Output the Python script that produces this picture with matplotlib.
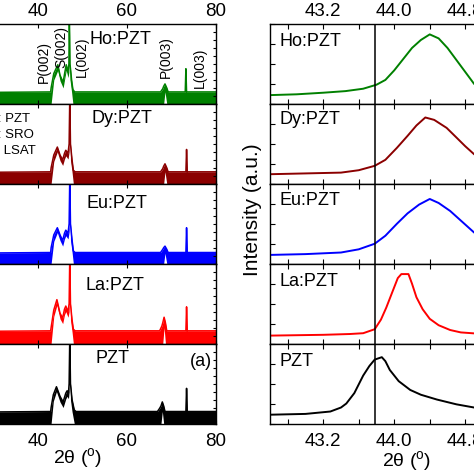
import matplotlib
matplotlib.use("Agg")
import matplotlib.pyplot as plt
from matplotlib.ticker import MultipleLocator

plt.rcParams['font.family'] = ['Liberation Sans', 'DejaVu Sans']
plt.rcParams['mathtext.fontset'] = 'custom'
plt.rcParams['mathtext.rm'] = 'Liberation Sans'

# ---------------- data ----------------
samples = ["Ho:PZT", "Dy:PZT", "Eu:PZT", "La:PZT", "PZT"]
colors = ["#008000", "#8b0000", "#0000ff", "#ff0000", "#000000"]

# left panel: wide 2theta scan (x, upper envelope, lower envelope), panel-normalised
ho_wide = [(20, 0.14, 0), (42.9, 0.15, 0), (43.0, 0.2, 0), (43.6, 0.38, 0.3), (44.5, 0.49, 0.42),
           (45.0, 0.36, 0.29), (45.7, 0.27, 0.2), (46.1, 0.4, 0.33), (46.4, 0.49, 0.42), (46.8, 0.4, 0.33),
           (47.0, 0.5, 0.4), (47.1, 1.1, 1.0), (47.25, 0.5, 0.3), (47.6, 0.3, 0.15), (47.9, 0.18, 0),
           (48.3, 0.15, 0), (67.6, 0.15, 0), (68.1, 0.19, 0), (68.3, 0.22, 0.0), (68.6, 0.25, 0.15),
           (69.0, 0.2, 0.0), (69.3, 0.15, 0), (73.15, 0.15, 0), (73.3, 0.44, 0.0), (73.45, 0.15, 0),
           (80, 0.15, 0)]
dy_wide = [(20, 0.14, 0), (42.9, 0.15, 0), (43.0, 0.2, 0), (43.6, 0.36, 0.28), (44.4, 0.46, 0.4),
           (45.0, 0.36, 0.29), (45.6, 0.3, 0.23), (46.0, 0.38, 0.31), (46.3, 0.42, 0.35), (46.8, 0.38, 0.31),
           (47.05, 0.5, 0.4), (47.2, 1.1, 1.0), (47.35, 0.5, 0.3), (47.7, 0.3, 0.15), (48.0, 0.17, 0),
           (48.4, 0.15, 0), (67.6, 0.15, 0), (68.1, 0.19, 0), (68.3, 0.22, 0.0), (68.6, 0.25, 0.15),
           (69.0, 0.2, 0.0), (69.3, 0.15, 0), (73.3, 0.15, 0), (73.45, 0.43, 0.0), (73.6, 0.15, 0),
           (80, 0.15, 0)]
eu_wide = [(20, 0.13, 0), (42.9, 0.14, 0), (43.0, 0.2, 0), (43.6, 0.36, 0.28), (44.4, 0.45, 0.39),
           (45.0, 0.36, 0.29), (45.6, 0.29, 0.22), (46.0, 0.38, 0.31), (46.3, 0.42, 0.35), (46.8, 0.38, 0.31),
           (47.05, 0.5, 0.4), (47.2, 1.1, 1.0), (47.35, 0.5, 0.3), (47.7, 0.3, 0.15), (48.0, 0.16, 0),
           (48.4, 0.14, 0), (67.6, 0.14, 0), (68.1, 0.18, 0), (68.3, 0.2, 0.0), (68.6, 0.22, 0.13),
           (69.0, 0.18, 0.0), (69.3, 0.14, 0), (73.3, 0.14, 0), (73.45, 0.45, 0.0), (73.6, 0.14, 0),
           (80, 0.14, 0)]
la_wide = [(20, 0.15, 0), (42.9, 0.16, 0), (43.0, 0.2, 0), (43.6, 0.42, 0.34), (44.3, 0.55, 0.48),
           (45.0, 0.38, 0.31), (45.6, 0.32, 0.25), (46.0, 0.43, 0.36), (46.3, 0.47, 0.4), (46.8, 0.4, 0.33),
           (47.05, 0.5, 0.4), (47.2, 1.1, 1.0), (47.35, 0.5, 0.3), (47.7, 0.3, 0.15), (48.0, 0.18, 0),
           (48.4, 0.16, 0), (67.4, 0.16, 0), (67.9, 0.22, 0), (68.1, 0.26, 0.0), (68.4, 0.33, 0.2),
           (68.7, 0.26, 0.0), (69.0, 0.16, 0), (73.3, 0.16, 0), (73.45, 0.46, 0.0), (73.6, 0.16, 0),
           (80, 0.16, 0)]
pzt_wide = [(20, 0.14, 0), (42.9, 0.15, 0), (43.0, 0.2, 0), (43.5, 0.36, 0.28), (44.2, 0.46, 0.4),
            (45.0, 0.34, 0.27), (45.7, 0.27, 0.2), (46.3, 0.38, 0.31), (46.6, 0.41, 0.34), (46.9, 0.38, 0.31),
            (47.05, 0.5, 0.4), (47.2, 1.1, 1.0), (47.35, 0.5, 0.3), (47.7, 0.3, 0.15), (48.2, 0.17, 0),
            (48.6, 0.15, 0), (66.9, 0.15, 0), (67.4, 0.19, 0), (67.7, 0.22, 0.0), (68.0, 0.27, 0.15),
            (68.3, 0.22, 0.0), (68.6, 0.15, 0), (73.3, 0.15, 0), (73.45, 0.44, 0.0), (73.6, 0.15, 0),
            (80, 0.15, 0)]
wide_scans = [ho_wide, dy_wide, eu_wide, la_wide, pzt_wide]

# right panel: zoom on the (002) reflection
ho_x = [42.6, 42.9, 43.2, 43.45, 43.65, 43.8, 43.9, 44.0, 44.1, 44.2, 44.3, 44.4, 44.5, 44.6, 44.7, 44.8, 44.9, 45.0]
ho_y = [0.11, 0.12, 0.14, 0.16, 0.19, 0.24, 0.3, 0.42, 0.56, 0.7, 0.8, 0.87, 0.82, 0.7, 0.55, 0.4, 0.25, 0.18]
dy_x = [42.6, 43.0, 43.4, 43.6, 43.78, 43.9, 44.03, 44.15, 44.25, 44.35, 44.45, 44.59, 44.7, 44.8, 44.9, 45.0]
dy_y = [0.12, 0.13, 0.14, 0.17, 0.225, 0.3, 0.45, 0.6, 0.73, 0.83, 0.8, 0.7, 0.58, 0.47, 0.37, 0.3]
eu_x = [42.6, 43.0, 43.4, 43.6, 43.78, 43.9, 44.03, 44.15, 44.28, 44.4, 44.5, 44.63, 44.75, 44.9, 45.0]
eu_y = [0.11, 0.12, 0.14, 0.18, 0.25, 0.35, 0.5, 0.63, 0.74, 0.81, 0.76, 0.66, 0.54, 0.39, 0.33]
la_x = [42.6, 43.2, 43.5, 43.65, 43.78, 43.85, 43.91, 43.98, 44.04, 44.08, 44.16, 44.2, 44.25, 44.32, 44.4, 44.5, 44.63, 44.75, 45.0]
la_y = [0.1, 0.11, 0.12, 0.13, 0.18, 0.3, 0.45, 0.65, 0.82, 0.87, 0.87, 0.75, 0.58, 0.43, 0.31, 0.23, 0.17, 0.14, 0.12]
pzt_x = [42.6, 43.0, 43.28, 43.4, 43.46, 43.55, 43.65, 43.72, 43.78, 43.86, 43.9, 43.95, 44.05, 44.18, 44.3, 44.48, 44.7, 44.9, 45.0]
pzt_y = [0.11, 0.12, 0.15, 0.2, 0.25, 0.38, 0.6, 0.72, 0.8, 0.83, 0.78, 0.67, 0.53, 0.42, 0.36, 0.3, 0.24, 0.2, 0.19]
zoom_x = [ho_x, dy_x, eu_x, la_x, pzt_x]
zoom_y = [ho_y, dy_y, eu_y, la_y, pzt_y]
ref_line = 43.78

peak_labels = ["P(002)", "S(002)", "L(002)", "P(003)", "L(003)"]
peak_label_x = [41.4, 45.4, 50.0, 68.7, 76.4]
peak_label_y = [0.525, 0.71, 0.59, 0.58, 0.455]
phase_labels = ["P: PZT", "S: SRO", "L: LSAT"]

# ---------------- layout ----------------
W = 474.0
fig = plt.figure(figsize=(4.74, 4.74), dpi=100)
top_px, bot_px = 24.0, 423.5
ph = (bot_px - top_px) / 5 / W
lx0, lx1 = -51.2 / W, 215.7 / W
rx0, rx1 = 270.0 / W, 483.0 / W

left_label_pos = [(58.5, 0.81), (58.9, 0.82), (57.8, 0.755), (57.3, 0.73), (56.7, 0.81)]
right_label_y = [0.78, 0.81, 0.79, 0.78, 0.78]

for i in range(5):
    y0 = 1 - (top_px / W) - (i + 1) * ph
    xpad = 3 if i == 0 else 7
    # ---- left ----
    ax = fig.add_axes([lx0, y0, lx1 - lx0, ph])
    scan = wide_scans[i]
    xs = [p[0] for p in scan]
    up = [p[1] for p in scan]
    lo = [p[2] for p in scan]
    ax.fill_between(xs, lo, up, color=colors[i], lw=0)
    ax.plot(xs, up, color=colors[i], lw=1.1)
    ax.set_xlim(20, 80)
    ax.set_ylim(0, 1)
    ax.xaxis.set_major_locator(MultipleLocator(20))
    ax.yaxis.set_major_locator(MultipleLocator(0.1))
    ax.tick_params(direction='in', length=3, width=0.8, top=True, right=True,
                   labelleft=False, labelbottom=(i == 4), labeltop=(i == 0), labelsize=13.5)
    ax.tick_params(axis='x', pad=xpad)
    ax.tick_params(axis='y', length=2.5)
    for s in ax.spines.values():
        s.set_linewidth(1.0)
    lx, ly = left_label_pos[i]
    ax.text(lx, ly, samples[i], ha='center', va='center', fontsize=13)
    if i == 0:
        for t, px, py in zip(peak_labels, peak_label_x, peak_label_y):
            ax.text(px, py, t, rotation=90, ha='center', va='center', fontsize=10)
    if i == 1:
        for k, t in enumerate(phase_labels):
            ax.text(29.1, 0.81 - k * 0.2, t, ha='left', va='center', fontsize=9.5)
    if i == 4:
        ax.text(76.6, 0.78, "(a)", ha='center', va='center', fontsize=13)

    # ---- right ----
    ar = fig.add_axes([rx0, y0, rx1 - rx0, ph])
    ar.plot(zoom_x[i], zoom_y[i], color=colors[i], lw=1.4)
    ar.axvline(ref_line, color='black', lw=1.1)
    ar.set_xlim(42.6, 45.0)
    ar.set_ylim(0, 1)
    ar.xaxis.set_major_locator(MultipleLocator(0.8))
    ar.xaxis.set_minor_locator(MultipleLocator(0.4))
    ar.xaxis.set_major_formatter(matplotlib.ticker.FormatStrFormatter('%.1f'))
    ar.yaxis.set_major_locator(MultipleLocator(0.25))
    ar.tick_params(direction='in', which='both', length=3.5, width=0.8, top=True, right=True,
                   labelleft=False, labelbottom=(i == 4), labeltop=(i == 0), labelsize=13.5)
    ar.tick_params(axis='x', which='both', pad=xpad)
    for s in ar.spines.values():
        s.set_linewidth(1.0)
    ar.text(42.71, right_label_y[i], samples[i], ha='left', va='center', fontsize=13)

fig.text(77.5 / W, 1 - 446 / W, r"2θ ($^{\rm o}$)", ha='center', va='top', fontsize=14)
fig.text(407 / W, 1 - 449 / W, r"2θ ($^{\rm o}$)", ha='center', va='top', fontsize=14)
fig.text(253 / W, 1 - 210 / W, "Intensity (a.u.)", rotation=90, ha='center', va='center', fontsize=15)

fig.savefig("out.png", dpi=100)
